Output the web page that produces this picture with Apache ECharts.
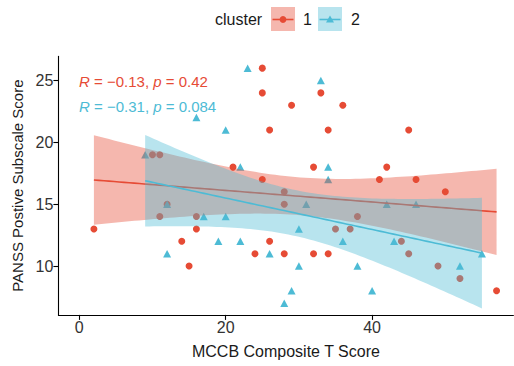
<!DOCTYPE html>
<html>
<head>
<meta charset="utf-8">
<script src="https://cdn.jsdelivr.net/npm/echarts@6/dist/echarts.min.js"></script>
<style>
  html, body { margin: 0; padding: 0; background: #ffffff; }
  #chart { width: 514px; height: 366px; }
</style>
</head>
<body>
<div id="chart"></div>
<script>
// Cluster 1 (circles): MCCB composite T score vs PANSS positive subscale score
const mccbCluster1 = [2, 10, 11, 12, 11, 14, 15, 16, 16, 25, 25, 26, 21, 25, 28, 28, 26, 24, 28, 33,
                      29, 36, 34, 32, 42, 41, 38, 35, 37, 32, 34, 45, 46, 50, 44, 45, 49, 52, 57];
const panssCluster1 = [13, 19, 19, 15, 14, 12, 10, 14, 13, 26, 24, 21, 18, 17, 16, 15, 12, 11, 11, 24,
                       23, 23, 21, 18, 18, 17, 14, 13, 13, 11, 11, 21, 17, 16, 12, 11, 10, 9, 8];

// Cluster 2 (triangles)
const mccbCluster2 = [9, 12, 12, 17, 19, 23, 16, 20, 22, 20, 22, 26, 28, 33, 34, 34, 31, 42, 30, 36,
                      30, 38, 29, 40, 46, 43, 52, 55];
const panssCluster2 = [19, 15, 11, 14, 12, 26, 22, 21, 18, 14, 12, 11, 7, 25, 18, 17, 15, 15, 13, 12,
                       10, 10, 8, 8, 15, 12, 10, 11];

const clusterNames = ['1', '2'];
const corrR = ['\u22120.13', '\u22120.31'];
const corrP = ['0.42', '0.084'];

const xTicks = [0, 20, 40];
const yTicks = [10, 15, 20, 25];

const RED = '#E64B35';
const BLUE = '#4DBBD5';
const RED_FILL = 'rgba(230,75,53,0.4)';
const BLUE_FILL = 'rgba(77,187,213,0.4)';
const FONT = '"Liberation Sans", Arial, sans-serif';

// Two-sided 95% t quantile (Cornish-Fisher expansion)
function tQuantile975(df) {
  const z = 1.959964;
  const g1 = (z ** 3 + z) / 4;
  const g2 = (5 * z ** 5 + 16 * z ** 3 + 3 * z) / 96;
  const g3 = (3 * z ** 7 + 19 * z ** 5 + 17 * z ** 3 - 15 * z) / 384;
  return z + g1 / df + g2 / df ** 2 + g3 / df ** 3;
}

// Ordinary least squares fit with a 95% confidence band, like geom_smooth(method = "lm")
function linearFit(xs, ys, steps) {
  const n = xs.length;
  const mx = xs.reduce((a, b) => a + b, 0) / n;
  const my = ys.reduce((a, b) => a + b, 0) / n;
  let sxx = 0, sxy = 0;
  for (let i = 0; i < n; i++) {
    sxx += (xs[i] - mx) ** 2;
    sxy += (xs[i] - mx) * (ys[i] - my);
  }
  const slope = sxy / sxx;
  const icpt = my - slope * mx;
  let rss = 0;
  for (let i = 0; i < n; i++) rss += (ys[i] - icpt - slope * xs[i]) ** 2;
  const s = Math.sqrt(rss / (n - 2));
  const t = tQuantile975(n - 2);
  const lo = Math.min(...xs), hi = Math.max(...xs);
  const line = [], upper = [], lower = [];
  for (let k = 0; k <= steps; k++) {
    const x = lo + (hi - lo) * k / steps;
    const yhat = icpt + slope * x;
    const se = s * Math.sqrt(1 / n + (x - mx) ** 2 / sxx);
    line.push([x, yhat]);
    upper.push([x, yhat + t * se]);
    lower.push([x, yhat - t * se]);
  }
  return { line, upper, lower };
}

const fit1 = linearFit(mccbCluster1, panssCluster1, 80);
const fit2 = linearFit(mccbCluster2, panssCluster2, 80);

function bandSeries(fit, fill, z) {
  return {
    type: 'custom',
    z: z,
    silent: true,
    data: [fit.line[0]],
    renderItem: function (params, api) {
      const pts = fit.upper.map(p => api.coord(p))
        .concat(fit.lower.slice().reverse().map(p => api.coord(p)));
      return { type: 'polygon', shape: { points: pts }, style: { fill: fill } };
    }
  };
}

function zip(xs, ys) { return xs.map((x, i) => [x, ys[i]]); }

const chart = echarts.init(document.getElementById('chart'), null, { renderer: 'svg' });

const axisText = { color: '#333333', fontSize: 16, fontFamily: FONT };

chart.setOption({
  animation: false,
  backgroundColor: '#ffffff',
  grid: { left: 58.4, right: 0.6, top: 56.4, bottom: 51.1 },
  xAxis: {
    type: 'value', min: -2.85, max: 59.3,
    name: 'MCCB Composite T Score', nameLocation: 'middle', nameGap: 29,
    nameTextStyle: { color: '#1a1a1a', fontSize: 16, fontFamily: FONT },
    axisLine: { show: true, onZero: false, lineStyle: { color: '#000000', width: 1.1 } },
    axisTick: { show: true, length: 5, lineStyle: { color: '#000000', width: 1.1 }, customValues: xTicks },
    axisLabel: Object.assign({ margin: 5, customValues: xTicks }, axisText),
    splitLine: { show: false }
  },
  yAxis: {
    type: 'value', min: 6.05, max: 26.95,
    name: 'PANSS Postive Subscale Score', nameLocation: 'middle', nameGap: 32, nameRotate: 90,
    nameTextStyle: { color: '#1a1a1a', fontSize: 15, fontFamily: FONT },
    axisLine: { show: true, onZero: false, lineStyle: { color: '#000000', width: 1.1 } },
    axisTick: { show: true, length: 5, lineStyle: { color: '#000000', width: 1.1 }, customValues: yTicks },
    axisLabel: Object.assign({ margin: 5, customValues: yTicks }, axisText),
    splitLine: { show: false }
  },
  series: [
    {
      name: clusterNames[0], type: 'scatter', z: 2, symbol: 'circle', symbolSize: 7,
      itemStyle: { color: RED, opacity: 1 }, data: zip(mccbCluster1, panssCluster1)
    },
    {
      name: clusterNames[1], type: 'scatter', z: 2, symbol: 'triangle', symbolSize: [8, 7.5],
      itemStyle: { color: BLUE, opacity: 1 }, data: zip(mccbCluster2, panssCluster2)
    },
    bandSeries(fit1, RED_FILL, 3),
    {
      type: 'line', z: 4, showSymbol: false, silent: true, data: fit1.line,
      lineStyle: { color: RED, width: 1.6 }
    },
    bandSeries(fit2, BLUE_FILL, 5),
    {
      type: 'line', z: 6, showSymbol: false, silent: true, data: fit2.line,
      lineStyle: { color: BLUE, width: 1.6 }
    }
  ],
  graphic: [
    // correlation annotations
    {
      type: 'text', left: 79, top: 74, z: 10,
      style: {
        text: '{i|R} = ' + corrR[0] + ', {i|p} = ' + corrP[0],
        fill: RED, font: '15px ' + FONT,
        rich: { i: { fontStyle: 'italic', fontSize: 15, fontFamily: FONT, fill: RED } }
      }
    },
    {
      type: 'text', left: 79, top: 99, z: 10,
      style: {
        text: '{i|R} = ' + corrR[1] + ', {i|p} = ' + corrP[1],
        fill: BLUE, font: '15px ' + FONT,
        rich: { i: { fontStyle: 'italic', fontSize: 15, fontFamily: FONT, fill: BLUE } }
      }
    },
    // legend
    {
      type: 'group', left: 215, top: 7, z: 10,
      children: [
        { type: 'text', x: 0, y: 4, style: { text: 'cluster', fill: '#1a1a1a', font: '16px ' + FONT } },
        { type: 'rect', shape: { x: 56, y: 0, width: 24, height: 24 }, style: { fill: RED_FILL } },
        { type: 'line', shape: { x1: 57.5, y1: 12.5, x2: 78.5, y2: 12.5 }, style: { stroke: RED, lineWidth: 1.6 } },
        { type: 'circle', shape: { cx: 68, cy: 12.5, r: 3.4 }, style: { fill: RED } },
        { type: 'text', x: 88, y: 4, style: { text: clusterNames[0], fill: '#1a1a1a', font: '16px ' + FONT } },
        { type: 'rect', shape: { x: 103, y: 0, width: 24, height: 24 }, style: { fill: BLUE_FILL } },
        { type: 'line', shape: { x1: 104.5, y1: 12.5, x2: 125.5, y2: 12.5 }, style: { stroke: BLUE, lineWidth: 1.6 } },
        { type: 'polygon', shape: { points: [[115, 8.5], [119, 15.5], [111, 15.5]] }, style: { fill: BLUE } },
        { type: 'text', x: 136, y: 4, style: { text: clusterNames[1], fill: '#1a1a1a', font: '16px ' + FONT } }
      ]
    }
  ]
});
</script>
</body>
</html>
